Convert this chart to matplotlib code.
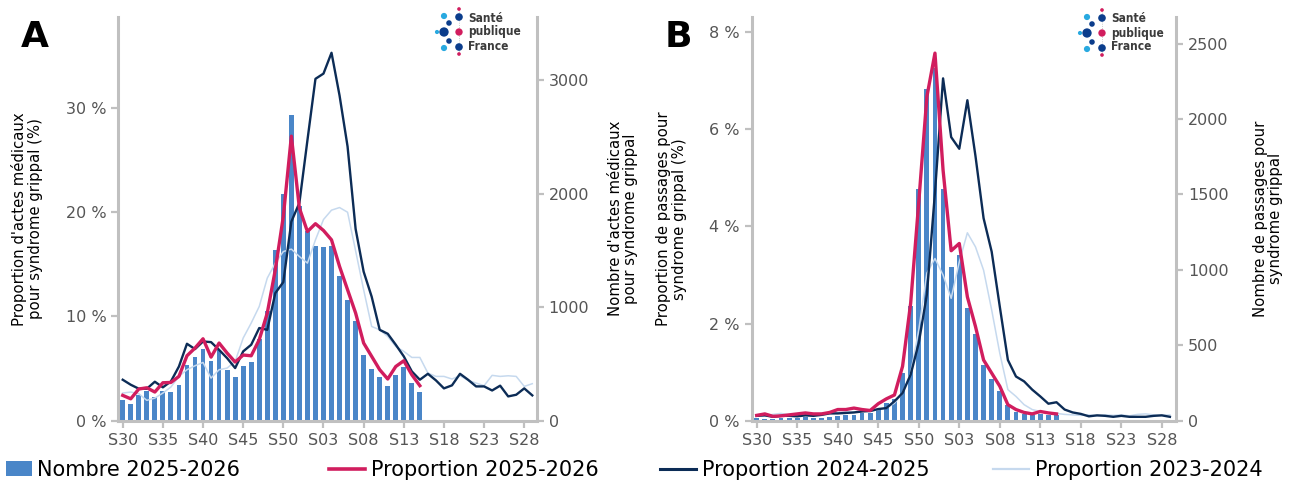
#!/usr/bin/env python3

import matplotlib
matplotlib.use("Agg")
import matplotlib.pyplot as plt
from matplotlib.patches import Patch
from matplotlib.lines import Line2D

# weeks from S30 to S29 (52 weeks)
weeks = [f"S{w:02d}" for w in list(range(30, 53)) + list(range(1, 30))]
tick_weeks = ["S30", "S35", "S40", "S45", "S50", "S03", "S08", "S13", "S18", "S23", "S28"]

# Panel A : actes medicaux (SOS Medecins)
a_count_2526 = [185, 150, 226, 262, 205, 258, 249, 311, 493, 564, 634, 529, 619, 449, 385, 482,
                514, 722, 963, 1507, 2000, 2693, 1888, 1668, 1536, 1530, 1536, 1278, 1066, 875,
                579, 458, 385, 308, 403, 473, 329, 256]
a_prop_2526 = [2.43, 2.1, 3.04, 3.16, 2.75, 3.64, 3.67, 4.25, 6.23, 6.97, 7.86, 6.1, 7.45, 6.49,
               5.63, 6.3, 6.23, 7.77, 10.33, 14.48, 19.6, 27.3, 20.4, 18.15, 18.9, 18.25, 17.35,
               14.8, 12.56, 10.33, 7.45, 6.17, 4.89, 4.0, 5.2, 5.75, 4.41, 3.36]
a_prop_2425 = [3.93, 3.45, 3.07, 3.07, 3.74, 3.2, 3.77, 5.2, 7.38, 6.87, 7.6, 7.54, 6.8, 6.0,
               5.05, 6.65, 7.29, 8.89, 8.72, 12.24, 13.3, 19.1, 20.9, 26.9, 32.8, 33.3, 35.3,
               31.2, 26.3, 18.4, 14.3, 11.9, 8.72, 8.34, 7.29, 6.17, 4.73, 3.93, 4.5, 3.87, 3.1,
               3.39, 4.5, 3.93, 3.29, 3.29, 2.9, 3.36, 2.33, 2.49, 3.1, 2.43]
a_prop_2324 = [2.65, 2.75, 2.59, 1.95, 2.17, 2.65, 3.23, 4.25, 4.89, 5.27, 5.59, 4.09, 4.89, 5.05,
               5.69, 7.93, 9.37, 10.96, 13.68, 15.12, 16.23, 16.46, 15.75, 15.12, 17.35, 19.3,
               20.2, 20.45, 20.0, 16.3, 12.56, 9.04, 8.72, 8.08, 7.12, 6.65, 6.07, 6.07, 4.57,
               4.25, 4.25, 4.0, 4.31, 3.87, 3.61, 3.36, 4.35, 4.25, 4.31, 4.25, 3.29, 3.55]

# Panel B : passages aux urgences (OSCOUR)
b_count_2526 = [15, 12, 14, 18, 16, 20, 22, 18, 20, 26, 30, 38, 40, 53, 50, 73, 117, 146, 316,
                758, 1536, 2199, 2340, 1536, 1019, 1100, 747, 577, 371, 278, 197, 106, 55, 46,
                40, 46, 38, 35]
b_prop_2526 = [0.11, 0.14, 0.09, 0.10, 0.12, 0.14, 0.16, 0.14, 0.14, 0.17, 0.23, 0.23, 0.26,
               0.23, 0.21, 0.35, 0.45, 0.53, 1.12, 2.42, 4.5, 6.67, 7.57, 5.16, 3.5, 3.65, 2.55,
               1.94, 1.25, 0.98, 0.71, 0.33, 0.23, 0.17, 0.14, 0.19, 0.16, 0.14]
b_prop_2425 = [0.10, 0.11, 0.08, 0.10, 0.10, 0.09, 0.11, 0.10, 0.12, 0.15, 0.15, 0.16, 0.17,
               0.19, 0.20, 0.24, 0.26, 0.40, 0.57, 0.95, 1.6, 2.6, 4.7, 7.05, 5.84, 5.6, 6.6,
               5.45, 4.17, 3.48, 2.35, 1.25, 0.91, 0.81, 0.64, 0.50, 0.35, 0.38, 0.23, 0.17,
               0.14, 0.09, 0.11, 0.10, 0.08, 0.10, 0.08, 0.08, 0.08, 0.10, 0.11, 0.08]
b_prop_2324 = [0.12, 0.10, 0.13, 0.15, 0.12, 0.14, 0.13, 0.12, 0.15, 0.16, 0.17, 0.18, 0.17,
               0.20, 0.19, 0.23, 0.26, 0.36, 0.57, 0.98, 1.87, 3.04, 3.34, 3.0, 2.52, 3.27, 3.87,
               3.58, 3.1, 2.28, 1.39, 0.64, 0.5, 0.33, 0.23, 0.19, 0.16, 0.15, 0.13, 0.12, 0.11,
               0.12, 0.10, 0.12, 0.11, 0.12, 0.10, 0.13, 0.14, 0.12, 0.11, 0.12]

BAR_COLOR = "#4a86c8"
PINK = "#d11d5e"
NAVY = "#0c2c56"
LIGHT = "#c6d9ee"
SPINE = "#c0c0c0"
TICK_TXT = "#555555"

W, H = 1293, 486


def px_box(left, top, right, bottom):
    return [left / W, 1 - bottom / H, (right - left) / W, (bottom - top) / H]


def style_axes(ax, ax2):
    for side in ["top", "right"]:
        ax.spines[side].set_visible(False)
    for side in ["top", "left", "bottom"]:
        ax2.spines[side].set_visible(False)
    for sp in [ax.spines["left"], ax.spines["bottom"], ax2.spines["right"]]:
        sp.set_color(SPINE)
        sp.set_linewidth(2.2)
    for a in (ax, ax2):
        a.tick_params(colors=SPINE, labelcolor=TICK_TXT, labelsize=11.5, width=1.6, length=5)
    ax.set_zorder(ax2.get_zorder() + 1)
    ax.patch.set_visible(False)


def draw_panel(ax, count, p2526, p2425, p2324, xlim, ylim_left, ylim_right,
               left_ticks, right_ticks, left_label, right_label, lab_x_left, lab_x_right):
    ax2 = ax.twinx()
    x_all = list(range(len(weeks)))
    x_cur = x_all[:len(count)]

    ax2.bar(x_cur, count, width=0.6, color=BAR_COLOR, zorder=1)
    ax.plot(x_all, p2324, color=LIGHT, lw=1.1, zorder=2)
    ax.plot(x_all, p2425, color=NAVY, lw=1.7, zorder=3)
    ax.plot(x_cur, p2526, color=PINK, lw=2.4, zorder=4)

    ax.set_xlim(*xlim)
    ax.set_ylim(*ylim_left)
    ax2.set_ylim(*ylim_right)
    ax.set_xticks([weeks.index(w) for w in tick_weeks])
    ax.set_xticklabels(tick_weeks)
    ax.set_yticks(left_ticks)
    ax.set_yticklabels([f"{t} %" for t in left_ticks])
    ax2.set_yticks(right_ticks)
    ax2.set_yticklabels([str(t) for t in right_ticks])

    # label anchors: right edge of the left label, left edge of the right label
    ax.set_ylabel(left_label, fontsize=10.7, color="black", linespacing=1.05)
    ax2.set_ylabel(right_label, fontsize=10.7, color="black", linespacing=1.05)
    ax.yaxis.set_label_coords(lab_x_left, 0.5)
    ax2.yaxis.set_label_coords(lab_x_right, 0.5)
    style_axes(ax, ax2)
    return ax2


def draw_logo(ax, x0, y0):
    # dots relative to the pink top dot, in pixels
    dots = [(0, 0, PINK, 7), (0, 8, "#0b3d8c", 30), (-15, 7, "#29a9e0", 20),
            (-10, 14, "#0b3d8c", 16), (-22, 23, "#29a9e0", 9), (-15, 23, "#0b3d8c", 45),
            (0, 23, PINK, 28), (-10, 32, "#0b3d8c", 16), (-15, 39, "#29a9e0", 20),
            (0, 38, "#0b3d8c", 30), (0, 45, PINK, 7)]
    ax.plot([x0, x0], [y0, y0 + 45], color="#bbbbbb", lw=0.6, ls=":")
    for dx, dy, c, s in dots:
        ax.scatter(x0 + dx, y0 + dy, s=s, color=c, edgecolors="none", zorder=5)
    for i, word in enumerate(["Santé", "publique", "France"]):
        ax.text(x0 + 9, y0 + 9 + i * 14, word, fontsize=8.6, fontweight="bold",
                color="#3c3c3c", va="center", ha="left", fontstretch="condensed")


fig = plt.figure(figsize=(W / 100, H / 100), dpi=100)

ax_a = fig.add_axes(px_box(118.3, 16.7, 536.7, 420.7))
draw_panel(ax_a, a_count_2526, a_prop_2526, a_prop_2425, a_prop_2324,
           (-0.55, 51.55), (0, 38.76), (0, 3557), [0, 10, 20, 30], [0, 1000, 2000, 3000],
           "Proportion d'actes médicaux\npour syndrome grippal (%)",
           "Nombre d'actes médicaux\npour syndrome grippal", -0.181, 1.170)

ax_b = fig.add_axes(px_box(751.7, 16.7, 1176, 420.7))
draw_panel(ax_b, b_count_2526, b_prop_2526, b_prop_2425, b_prop_2324,
           (-0.62, 51.75), (0, 8.32), (0, 2679), [0, 2, 4, 6, 8], [0, 500, 1000, 1500, 2000, 2500],
           "Proportion de passages pour\nsyndrome grippal (%)",
           "Nombre de passages pour\nsyndrome grippal", -0.1525, 1.181)

# overlay in pixel coordinates for logos and panel letters
ov = fig.add_axes([0, 0, 1, 1])
ov.set_xlim(0, W)
ov.set_ylim(H, 0)
ov.axis("off")
draw_logo(ov, 459, 9)
draw_logo(ov, 1102, 10)
ov.text(35, 37, "A", fontsize=26, fontweight="bold", ha="center", va="center")
ov.text(678, 37, "B", fontsize=26, fontweight="bold", ha="center", va="center")

# legend, one entry per block so the positions follow the original
entries = [
    (Patch(facecolor=BAR_COLOR), "Nombre 2025-2026", 6, 1.25),
    (Line2D([], [], color=PINK, lw=2.6), "Proportion 2025-2026", 329, 1.75),
    (Line2D([], [], color=NAVY, lw=2.2), "Proportion 2024-2025", 660, 1.75),
    (Line2D([], [], color=LIGHT, lw=1.6), "Proportion 2023-2024", 993, 1.75),
]
for handle, label, xpix, hlen in entries:
    fig.legend([handle], [label], loc="center left", bbox_to_anchor=(xpix / W, 1 - 470 / H),
               frameon=False, fontsize=15, handlelength=hlen, handletextpad=0.25,
               borderpad=0, borderaxespad=0)

fig.savefig("out.png", dpi=100)
